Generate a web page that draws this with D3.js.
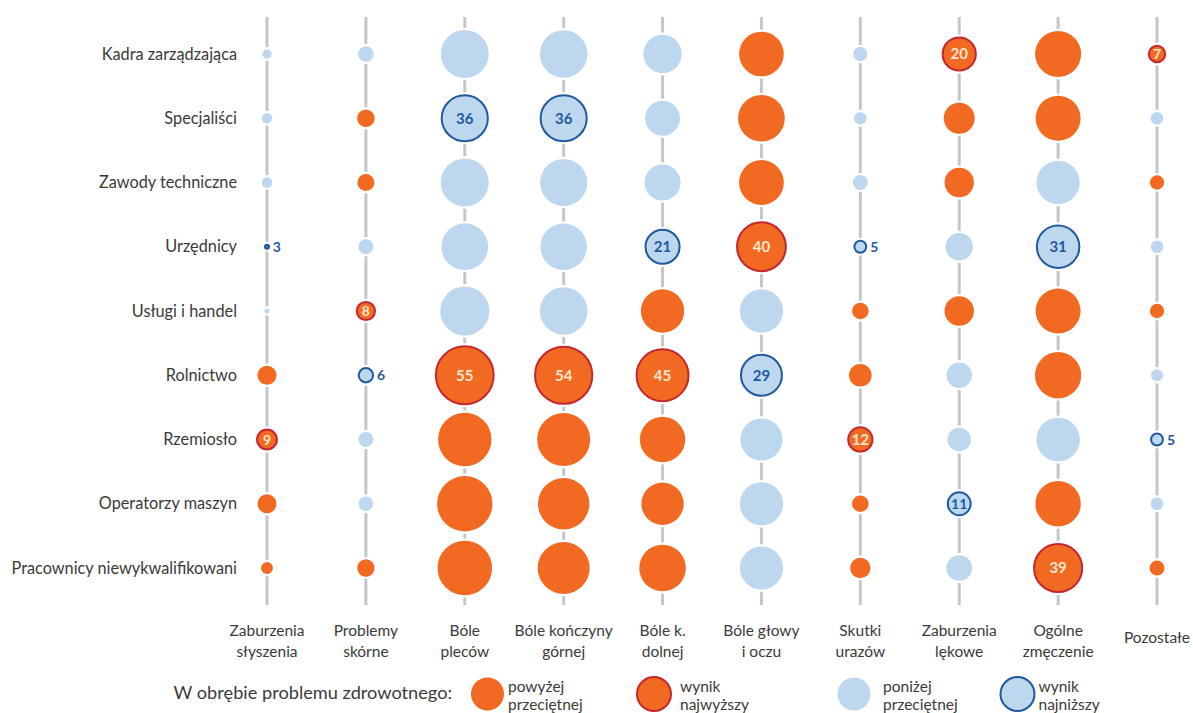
<!DOCTYPE html>
<html>
<head>
<meta charset="utf-8">
<script src="https://cdn.jsdelivr.net/npm/d3@7"></script>
<style>
  body { margin: 0; background: #fff; }
  svg { display: block; font-family: Lato, "Open Sans", sans-serif; }
</style>
</head>
<body>
<svg id="chart" width="1193" height="713"></svg>
<script>
// Occupational groups (rows)
const rows = ["Kadra zarządzająca", "Specjaliści", "Zawody techniczne", "Urzędnicy",
  "Usługi i handel", "Rolnictwo", "Rzemiosło", "Operatorzy maszyn", "Pracownicy niewykwalifikowani"];

// Health problems (columns), label lines
const columns = [
  ["Zaburzenia", "słyszenia"], ["Problemy", "skórne"], ["Bóle", "pleców"],
  ["Bóle kończyny", "górnej"], ["Bóle k.", "dolnej"], ["Bóle głowy", "i oczu"],
  ["Skutki", "urazów"], ["Zaburzenia", "lękowe"], ["Ogólne", "zmęczenie"], ["Pozostałe"]
];

// Values per column (% of workers), rows in the order above
const zaburzeniaSluchu  = [4.2, 4.5, 4.5, 3, 3.2, 8.5, 9, 8.4, 5.0];
const problemySkorne    = [6.6, 7.6, 7.3, 6.3, 8, 6, 6.3, 6.1, 7.5];
const bolePlecow        = [38.8, 36, 38.8, 37, 40.5, 55, 47.4, 50.8, 49.4];
const boleKonczynyGorn  = [38.3, 36, 37.5, 36.5, 38.3, 54, 46.7, 44.1, 45];
const boleKDolnej       = [25.8, 21.9, 23.1, 21, 32.2, 45, 35, 30.9, 36.7];
const boleGlowy         = [34, 36.8, 34.2, 40, 32.1, 29, 30.5, 32, 32];
const skutkiUrazow      = [6.0, 5.2, 6.3, 5, 7.1, 10.8, 12, 7.1, 9.3];
const zaburzeniaLekowe  = [20, 17.8, 16.3, 14.5, 16.3, 12.9, 11.5, 11, 13.1];
const ogolneZmeczenie   = [35.9, 34.4, 32.1, 31, 34.4, 36.3, 32.5, 35, 39];
const pozostale         = [7, 5.3, 6.0, 5.3, 6.0, 5.1, 5, 5.3, 6.3];

// Average for each health problem (threshold between above/below)
const averages = [4.8, 7.0, 44, 41, 28, 33, 6.7, 15.3, 33.5, 5.6];

const legendItems = [
  { type: "above", lines: ["powyżej", "przeciętnej"] },
  { type: "max", lines: ["wynik", "najwyższy"] },
  { type: "below", lines: ["poniżej", "przeciętnej"] },
  { type: "min", lines: ["wynik", "najniższy"] }
];
const legendTitle = "W obrębie problemu zdrowotnego:";

const series = [zaburzeniaSluchu, problemySkorne, bolePlecow, boleKonczynyGorn, boleKDolnej,
  boleGlowy, skutkiUrazow, zaburzeniaLekowe, ogolneZmeczenie, pozostale];

const ORANGE = "#f26a22", LIGHT = "#bdd7ee", RED = "#c3272f", BLUE = "#1f5a9e";
const GRID = "#c6c6c6";

const svg = d3.select("#chart");

const x = d3.scalePoint().domain(d3.range(columns.length)).range([267, 1157]);
const y = d3.scalePoint().domain(rows).range([54, 568]);
const r = d3.scaleRadial().domain([2.8, 55]).range([0, 28.9]).clamp(true);

// vertical lines
svg.append("g").selectAll("line").data(columns).join("line")
  .attr("x1", (d, i) => x(i)).attr("x2", (d, i) => x(i))
  .attr("y1", 17).attr("y2", 605)
  .attr("stroke", GRID).attr("stroke-width", 3);

// row labels
svg.append("g").selectAll("text").data(rows).join("text")
  .attr("x", 237).attr("y", d => y(d)).attr("dy", "0.35em")
  .attr("text-anchor", "end").attr("font-size", 16.3).attr("fill", "#3a3a3a")
  .text(d => d);

// column labels
const colLab = svg.append("g").selectAll("text").data(columns).join("text")
  .attr("text-anchor", "middle").attr("font-size", 15.5).attr("fill", "#3a3a3a")
  .attr("x", (d, i) => x(i)).attr("y", d => d.length === 1 ? 643 : 636);
colLab.selectAll("tspan").data(d => d).join("tspan")
  .attr("x", function () { return d3.select(this.parentNode).attr("x"); })
  .attr("dy", (d, j) => j === 0 ? 0 : 21).text(d => d);

// bubbles
const cells = [];
series.forEach((vals, ci) => {
  const mx = d3.max(vals), mn = d3.min(vals);
  vals.forEach((v, ri) => {
    let type = v > averages[ci] ? "above" : "below";
    if (v === mx) type = "max";
    if (v === mn) type = "min";
    cells.push({ ci, ri, v, type });
  });
});

const fillOf = t => (t === "above" || t === "max") ? ORANGE : LIGHT;
const strokeOf = t => t === "max" ? RED : t === "min" ? BLUE : "none";

const g = svg.append("g");
g.selectAll("circle.halo").data(cells).join("circle").attr("class", "halo")
  .attr("cx", d => x(d.ci)).attr("cy", d => y(rows[d.ri]))
  .attr("r", d => r(d.v) + (d.type === "max" || d.type === "min" ? 3 : 2.2))
  .attr("fill", "#fff");
g.selectAll("circle.b").data(cells).join("circle").attr("class", "b")
  .attr("cx", d => x(d.ci)).attr("cy", d => y(rows[d.ri]))
  .attr("r", d => Math.max(r(d.v), 1.8))
  .attr("fill", d => fillOf(d.type))
  .attr("stroke", d => strokeOf(d.type))
  .attr("stroke-width", d => d.v < 4 ? 2.4 : 2);

// value labels for extremes
const ext = cells.filter(d => d.type === "max" || d.type === "min");
g.selectAll("text").data(ext).join("text")
  .attr("x", d => r(d.v) >= 8 ? x(d.ci) : x(d.ci) + Math.max(r(d.v), 1.8) + 4)
  .attr("y", d => y(rows[d.ri])).attr("dy", "0.36em")
  .attr("text-anchor", d => r(d.v) >= 8 ? "middle" : "start")
  .attr("font-size", d => r(d.v) >= 12 ? 15 : 14)
  .attr("font-weight", 700)
  .attr("fill", d => r(d.v) < 8 ? BLUE : d.type === "max" ? "#fde6cf" : BLUE)
  .text(d => d3.format("d")(Math.round(d.v)));

// legend (layout positions)
const legendX = [487.5, 654, 854, 1017.5];
const legendTextDx = [20.5, 26, 29, 21];
const lg = svg.append("g");
lg.append("text").attr("x", 452).attr("y", 693).attr("dy", "0.35em")
  .attr("text-anchor", "end").attr("font-size", 18.2).attr("fill", "#3a3a3a").text(legendTitle);
const li = lg.selectAll("g.item").data(legendItems).join("g").attr("class", "item")
  .attr("transform", (d, i) => `translate(${legendX[i]},694)`);
li.append("circle").attr("r", d => d.type === "max" || d.type === "min" ? 17 : 16.5)
  .attr("fill", d => fillOf(d.type)).attr("stroke", d => strokeOf(d.type)).attr("stroke-width", 2);
const lt = li.append("text").attr("font-size", 15.5).attr("fill", "#3a3a3a");
lt.selectAll("tspan").data((d, i) => d.lines.map(t => ({ t, dx: legendTextDx[i] }))).join("tspan")
  .attr("x", d => d.dx).attr("y", (d, j) => j === 0 ? -2 : 16).text(d => d.t);
</script>
</body>
</html>
